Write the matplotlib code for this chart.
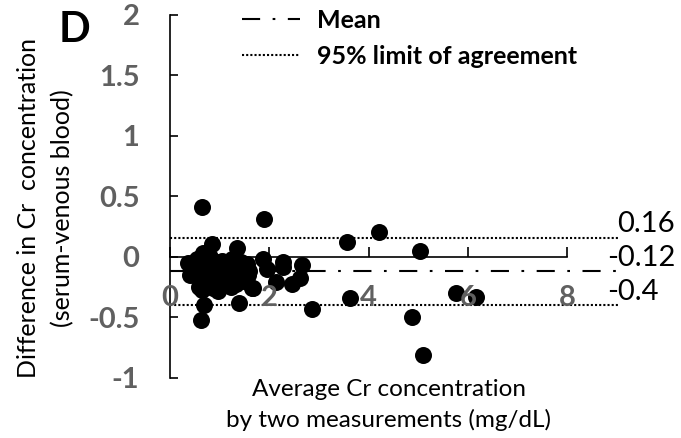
import numpy as np
import matplotlib
matplotlib.use("Agg")
import matplotlib.pyplot as plt

plt.rcParams['font.family'] = ['Lato', 'DejaVu Sans']

# Bland-Altman data: average of two measurements vs difference (serum - venous blood)
avg_cr = [0.64, 1.89, 0.62, 0.68, 1.39, 2.86, 2.13, 2.45, 2.62, 2.66, 2.27, 2.27,
          1.87, 1.95, 1.65, 3.56, 4.21, 5.03, 3.62, 5.75, 6.16, 4.87, 5.09,
          0.85, 1.35, 0.36, 0.66, 0.64, 1.67, 1.57, 1.11, 0.87,
          0.45, 0.50, 0.55, 0.60, 0.70, 0.72, 0.75, 0.78, 0.80, 0.82, 0.90,
          0.92, 0.95, 0.98, 1.00, 1.02, 1.05, 1.08, 1.12, 1.15, 1.18, 1.20,
          1.25, 1.28, 1.30, 1.32, 1.38, 1.42, 1.45, 1.48, 1.50, 1.55, 0.40,
          0.58, 0.68, 0.88, 1.22, 1.60, 0.52, 0.74, 0.96]
diff_cr = [0.41, 0.31, -0.52, -0.40, -0.38, -0.43, -0.21, -0.22, -0.17, -0.07, -0.04, -0.08,
           -0.02, -0.10, -0.26, 0.12, 0.21, 0.05, -0.34, -0.30, -0.33, -0.50, -0.81,
           0.11, 0.07, -0.05, 0.03, -0.27, -0.26, -0.15, -0.23, -0.26,
           -0.08, -0.12, -0.02, -0.18, -0.10, -0.22, -0.05, -0.15, 0.00, -0.20, -0.12,
           -0.04, -0.18, -0.08, -0.22, -0.14, -0.03, -0.10, -0.17, -0.06, -0.20, -0.12,
           -0.02, -0.16, -0.08, -0.22, -0.12, -0.04, -0.18, -0.10, -0.20, -0.06, -0.15,
           -0.25, -0.14, -0.24, -0.25, -0.12, -0.06, 0.02, -0.28]

mean_diff = -0.12
upper_loa = 0.16
lower_loa = -0.4
x_ticks = [0, 2, 4, 6, 8]
y_ticks = [-1, -0.5, 0, 0.5, 1, 1.5, 2]
y_ticklabels = ['-1', '-0.5', '0', '0.5', '1', '1.5', '2']

gray = '#606060'

fig = plt.figure(figsize=(6.81, 4.38), dpi=100)
ax = fig.add_axes([0.2496, 0.137, 0.693, 0.829])

ax.scatter(avg_cr, diff_cr, s=150, color='black', zorder=1, linewidths=0)

line_end = 9.05
mean_ln, = ax.plot([0, line_end], [mean_diff, mean_diff], color='black', lw=1.5,
                   linestyle=(0, (8.7, 6, 1.3, 6)), zorder=2)
loa_ln, = ax.plot([0, line_end], [upper_loa, upper_loa], color='black', lw=1.5,
                  linestyle=(0, (1, 1)), zorder=2)
ax.plot([0, line_end], [lower_loa, lower_loa], color='black', lw=1.5,
        linestyle=(0, (1, 1)), zorder=2)

# value labels at the right end of the lines
ax.text(9.0, upper_loa + 0.005, '0.16', fontsize=21, ha='left', va='bottom')
ax.text(8.8, mean_diff + 0.005, '-0.12', fontsize=21, ha='left', va='bottom')
ax.text(8.8, lower_loa + 0.005, '-0.4', fontsize=21, ha='left', va='bottom')

ax.set_xlim(0, 9.5)
ax.set_ylim(-1, 2)

ax.spines['top'].set_visible(False)
ax.spines['right'].set_visible(False)
ax.spines['bottom'].set_position(('data', 0))
ax.spines['bottom'].set_bounds(0, 8)
ax.spines['bottom'].set_linewidth(1.2)
ax.spines['left'].set_linewidth(1.2)

ax.set_xticks(x_ticks)
ax.set_xticklabels([str(t) for t in x_ticks], fontsize=21, fontweight='bold', color=gray)
ax.tick_params(axis='x', direction='in', length=7, width=1.2, pad=20)
ax.set_yticks(y_ticks)
ax.set_yticklabels(y_ticklabels, fontsize=21, fontweight='bold', color=gray)
ax.tick_params(axis='y', direction='in', length=6, width=1.2, pad=22)
ax.xaxis.set_zorder(4)

# y axis title, two rotated lines
fig.text(29 / 681, 1 - 208 / 438, 'Difference in Cr  concentration', fontsize=18,
         rotation=90, ha='center', va='center')
fig.text(63 / 681, 1 - 208 / 438, '(serum-venous blood)', fontsize=18,
         rotation=90, ha='center', va='center')
ax.text(0.464, -0.075, 'Average Cr concentration\nby two measurements (mg/dL)',
        transform=ax.transAxes, fontsize=17.5, ha='center', va='center', linespacing=1.5)

fig.text(75 / 681, 1 - 30 / 438, 'D', fontsize=30, fontweight='bold', ha='center', va='center')

ax.legend([mean_ln, loa_ln], ['Mean', '95% limit of agreement'], loc='upper left',
          bbox_to_anchor=(242 / 681, 1 - 9 / 438), bbox_transform=fig.transFigure,
          frameon=False, borderpad=0, borderaxespad=0, handlelength=2.3,
          handletextpad=0.7, labelspacing=0.5,
          prop={'weight': 'bold', 'size': 18})

fig.savefig('out.png', dpi=100)
